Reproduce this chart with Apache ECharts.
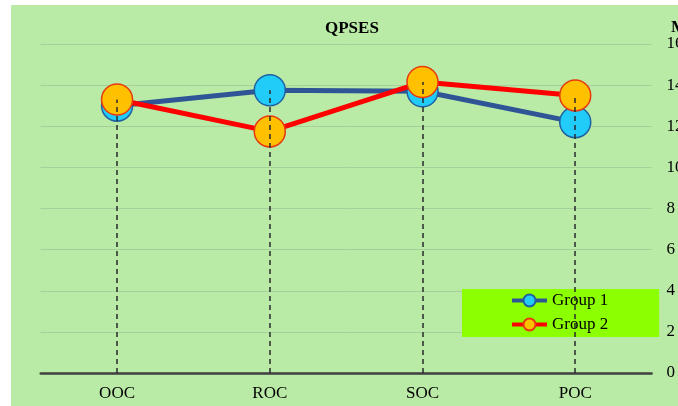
<!DOCTYPE html>
<html>
<head>
<meta charset="utf-8">
<script src="https://cdn.jsdelivr.net/npm/echarts@6/dist/echarts.min.js"></script>
<style>html,body{margin:0;padding:0;background:#fff}#c{width:678px;height:406px}</style>
</head>
<body>
<div id="c"></div>
<script>
const categories = ['OOC', 'ROC', 'SOC', 'POC'];
const group1 = [13.0, 13.75, 13.7, 12.2];
const group2 = [13.3, 11.75, 14.15, 13.5];
const yTicks = { min: 0, max: 16, interval: 2 };
const seriesNames = ['Group 1', 'Group 2'];
const titleText = 'QPSES';
const yAxisName = 'Mean';

const FONT = '"Liberation Serif", "DejaVu Serif", serif';
const chart = echarts.init(document.getElementById('c'), null, { renderer: 'canvas' });

const dropData = categories.map((c, i) => [
  { coord: [c, 0] },
  { coord: [c, Math.max(group1[i], group2[i])] }
]);

chart.setOption({
  backgroundColor: '#ffffff',
  animation: false,
  graphic: [
    { type: 'rect', left: 11, top: 5, z: -10, shape: { width: 667, height: 401 }, style: { fill: '#B9EBA7' } },
    { type: 'text', left: 671, top: 19, style: { text: yAxisName, font: 'bold 17px ' + FONT, fill: '#000' } }
  ],
  title: {
    text: titleText, left: 320, top: 15,
    textStyle: { fontFamily: FONT, fontWeight: 'bold', fontSize: 17, color: '#000' }
  },
  grid: { left: 40.7, right: 26.4, top: 44, bottom: 33, containLabel: false, outerBoundsMode: 'none' },
  legend: {
    data: seriesNames, orient: 'vertical', left: 462, top: 289,
    backgroundColor: '#8CFF00', borderWidth: 0,
    padding: [3, 51, 4, 48], itemGap: 7, itemWidth: 35, itemHeight: 15,
    lineStyle: { width: 4 },
    textStyle: { fontFamily: FONT, fontSize: 17, color: '#000' }
  },
  xAxis: {
    type: 'category', data: categories, boundaryGap: true,
    axisLine: { lineStyle: { color: '#404040', width: 2.5 } },
    axisTick: { show: false },
    axisLabel: { fontFamily: FONT, fontSize: 17, color: '#000', margin: 12 },
    splitLine: { show: false }
  },
  yAxis: {
    type: 'value', position: 'right', min: yTicks.min, max: yTicks.max, interval: yTicks.interval,
    axisLine: { show: false }, axisTick: { show: false },
    axisLabel: { fontFamily: FONT, fontSize: 17, color: '#000', margin: 15, align: 'left' },
    splitLine: { lineStyle: { color: '#A6CF9A', width: 1 } }
  },
  series: [
    {
      name: seriesNames[0], type: 'line', data: group1, z: 2,
      symbol: 'circle', symbolSize: 31,
      lineStyle: { color: '#2F5597', width: 5 },
      itemStyle: { color: '#22CCF8', borderColor: '#2060A0', borderWidth: 1.5 }
    },
    {
      name: seriesNames[1], type: 'line', data: group2, z: 3,
      symbol: 'circle', symbolSize: 31,
      lineStyle: { color: '#FF0000', width: 5 },
      itemStyle: { color: '#FFC000', borderColor: '#E8380F', borderWidth: 1.5 }
    },
    {
      name: 'drop', type: 'line', data: [], z: 10, silent: true,
      markLine: {
        silent: true, symbol: 'none', label: { show: false },
        lineStyle: { color: '#2A2A2A', width: 1.5, type: [5, 4] },
        data: dropData
      }
    }
  ]
});
</script>
</body>
</html>
